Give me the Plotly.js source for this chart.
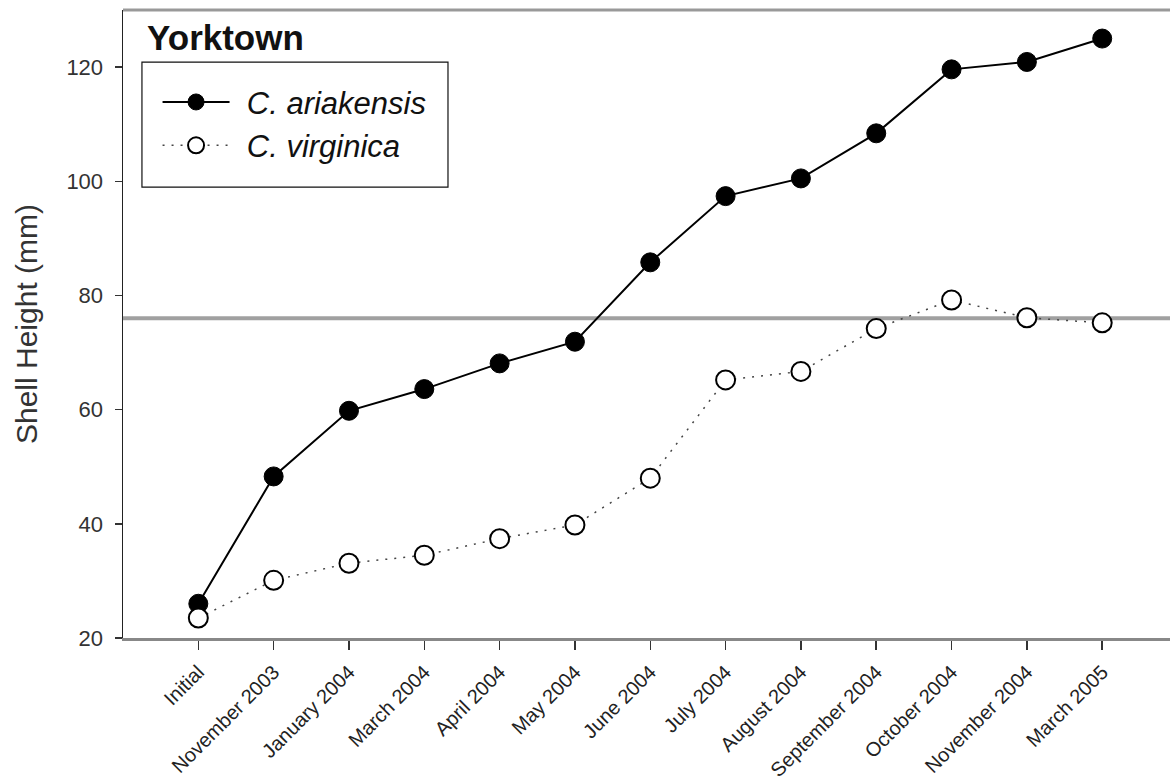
<!DOCTYPE html>
<html>
<head>
<meta charset="utf-8">
<script src="https://cdn.plot.ly/plotly-3.0.1.min.js"></script>
<style>html,body{margin:0;padding:0;background:#fff;}#chart{width:1170px;height:782px;}</style>
</head>
<body>
<div id="chart"></div>
<script>
var categories = ["Initial","November 2003","January 2004","March 2004","April 2004","May 2004","June 2004","July 2004","August 2004","September 2004","October 2004","November 2004","March 2005"];
var ariakensis = [26.0, 48.3, 59.8, 63.6, 68.1, 71.9, 85.8, 97.4, 100.5, 108.4, 119.6, 120.9, 125.0];
var virginica = [23.5, 30.1, 33.1, 34.5, 37.4, 39.8, 48.0, 65.2, 66.7, 74.2, 79.2, 76.1, 75.2];
var referenceLine = 76;
var yTicks = [20, 40, 60, 80, 100, 120];

var idx = categories.map(function(c, i){ return i; });
var pad = '<span style="font-size:22px">&nbsp;&nbsp;</span>';

var traces = [
  {
    x: idx, y: ariakensis, type: 'scatter', mode: 'lines+markers',
    name: pad + '<i>C. ariakensis</i>', legendgroup: 'a',
    line: {color: '#000', width: 2},
    marker: {symbol: 'circle', size: 19, color: '#000', line: {color: '#000', width: 1}},
    cliponaxis: false
  },
  {
    x: idx, y: virginica, type: 'scatter', mode: 'lines+markers',
    name: pad + '<i>C. virginica</i>', legendgroup: 'v',
    line: {color: '#444', width: 1.5, dash: '2px,7px'},
    marker: {symbol: 'circle', size: 19, color: '#fff', line: {color: '#000', width: 2}},
    cliponaxis: false
  }
];

var layout = {
  width: 1170, height: 782,
  margin: {l: 123, r: 0, t: 10, b: 144},
  paper_bgcolor: '#fff', plot_bgcolor: '#fff',
  font: {family: 'Liberation Sans, Arial, sans-serif', color: '#222'},
  showlegend: true,
  legend: {
    x: 0.033, y: 0.896, xanchor: 'left', yanchor: 'top',
    bgcolor: 'rgba(0,0,0,0)', borderwidth: 0,
    font: {size: 31, color: '#111', family: 'Liberation Sans, Arial, sans-serif'},
    itemwidth: 67, traceorder: 'grouped', tracegroupgap: 0
  },
  xaxis: {
    range: [-1, 12.9], tickmode: 'array', tickvals: idx, ticktext: categories,
    tickangle: -45, ticks: 'outside', ticklen: 9, tickwidth: 1.5, tickcolor: '#333',
    showline: true, linecolor: '#888', linewidth: 2.5,
    showgrid: false, zeroline: false, ticklabelstandoff: 3,
    tickfont: {size: 20, color: '#222'}
  },
  yaxis: {
    range: [20, 130], tickmode: 'array', tickvals: yTicks,
    ticks: 'outside', ticklen: 7, tickwidth: 1.5, tickcolor: '#333',
    showline: true, linecolor: '#222', linewidth: 1.5,
    showgrid: false, zeroline: false, ticklabelstandoff: 7,
    tickfont: {size: 22, color: '#333'},
    title: {text: 'Shell Height (mm)', font: {size: 30, color: '#333'}, standoff: 20}
  },
  shapes: [
    {type: 'line', xref: 'paper', yref: 'y', x0: 0, x1: 1, y0: referenceLine, y1: referenceLine,
     line: {color: '#a0a0a0', width: 4}, layer: 'below'},
    {type: 'line', xref: 'paper', yref: 'paper', x0: 0, x1: 1, y0: 1, y1: 1,
     line: {color: '#999', width: 3}},
    {type: 'rect', xref: 'paper', yref: 'paper', x0: 0.0181, x1: 0.3104, y0: 0.718, y1: 0.917,
     line: {color: '#111', width: 1.2}, fillcolor: 'rgba(0,0,0,0)'}
  ],
  annotations: [
    {text: '<b>Yorktown</b>', xref: 'paper', yref: 'paper', x: 0.021, y: 0.957,
     xanchor: 'left', yanchor: 'middle', showarrow: false,
     font: {size: 35, color: '#111', family: 'Liberation Sans, Arial, sans-serif'}}
  ]
};

Plotly.newPlot('chart', traces, layout, {displayModeBar: false, staticPlot: true});
</script>
</body>
</html>
